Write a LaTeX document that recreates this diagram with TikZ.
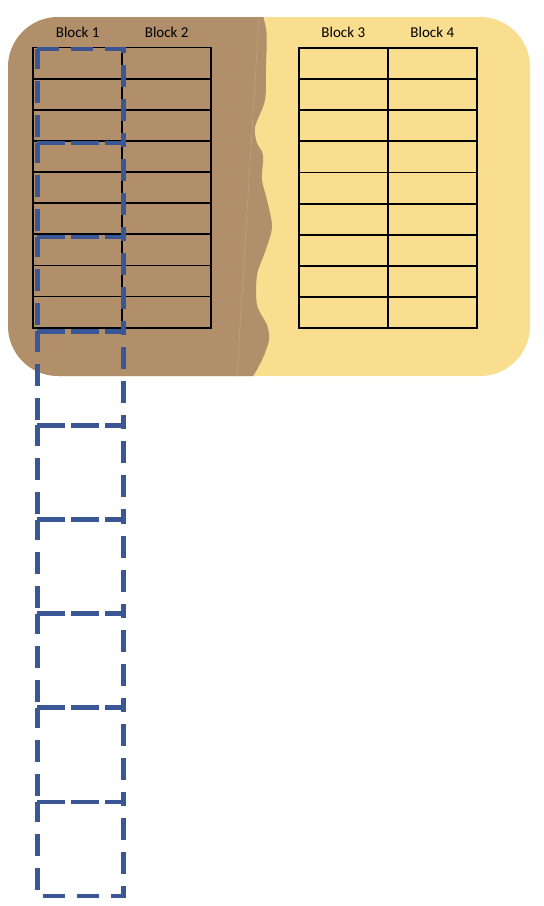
\documentclass[tikz,border=0pt]{standalone}
\usepackage{fontspec}
\setmainfont{Carlito}

\definecolor{soil}{RGB}{176,143,106}
\definecolor{sand}{RGB}{249,222,143}
\definecolor{slotblue}{RGB}{59,86,149}

\tikzstyle{blocklabel} = [font=\fontsize{15}{18}\selectfont,inner sep=0pt,text centered]
\tikzstyle{cell} = [draw=black,line width=1.8pt]
\tikzstyle{slot} = [draw=slotblue,line width=4.5pt,dash pattern=on 22pt off 12pt]

\begin{document}
\begin{tikzpicture}[x=1pt,y=-1pt]
	\useasboundingbox (0,0) rectangle (544,906);
	% ground: yellow field, brown part left of the wavy edge
	\fill[sand,rounded corners=50pt] (8,17) rectangle (530,376);
	\begin{scope}
		\clip[rounded corners=50pt] (8,17) rectangle (530,376);
		\fill[soil] (0,0) -- (262,0) -- plot[smooth] coordinates {(262,12) (266.5,33) (266,67) (265,100) (255,127) (257,143) (263,155) (262,180) (267,200) (272,227) (265,252) (257,275) (257,305) (267,325) (269,340) (262,360) (252,378)} -- (252,400) -- (0,400) -- cycle;
		\draw[soil!80!white,line width=0.5pt] (259,17) -- (237,376);
	\end{scope}
	% block labels
	\node (blk1) [blocklabel] at (77.7,32) {Block 1};
	\node (blk2) [blocklabel] at (166.7,32) {Block 2};
	\node (blk3) [blocklabel] at (343.3,32) {Block 3};
	\node (blk4) [blocklabel] at (432.3,32) {Block 4};
	% grids
	\foreach \r in {0,...,8} {
		\draw[cell] (33,47.5+\r*31.13) rectangle +(89,31.13);
		\draw[cell] (122,47.5+\r*31.13) rectangle +(89,31.13);
		\draw[cell] (299,48+\r*31.13) rectangle +(89,31.13);
		\draw[cell] (388,48+\r*31.13) rectangle +(89,31.13);
	}
	% dashed slots
	\foreach \i in {0,...,8}
		\draw[slot] (37.3,49+\i*94.1) -- ++(86,0) -- ++(0,94.1) -- ++(-86,0) -- cycle;
\end{tikzpicture}
\end{document}
